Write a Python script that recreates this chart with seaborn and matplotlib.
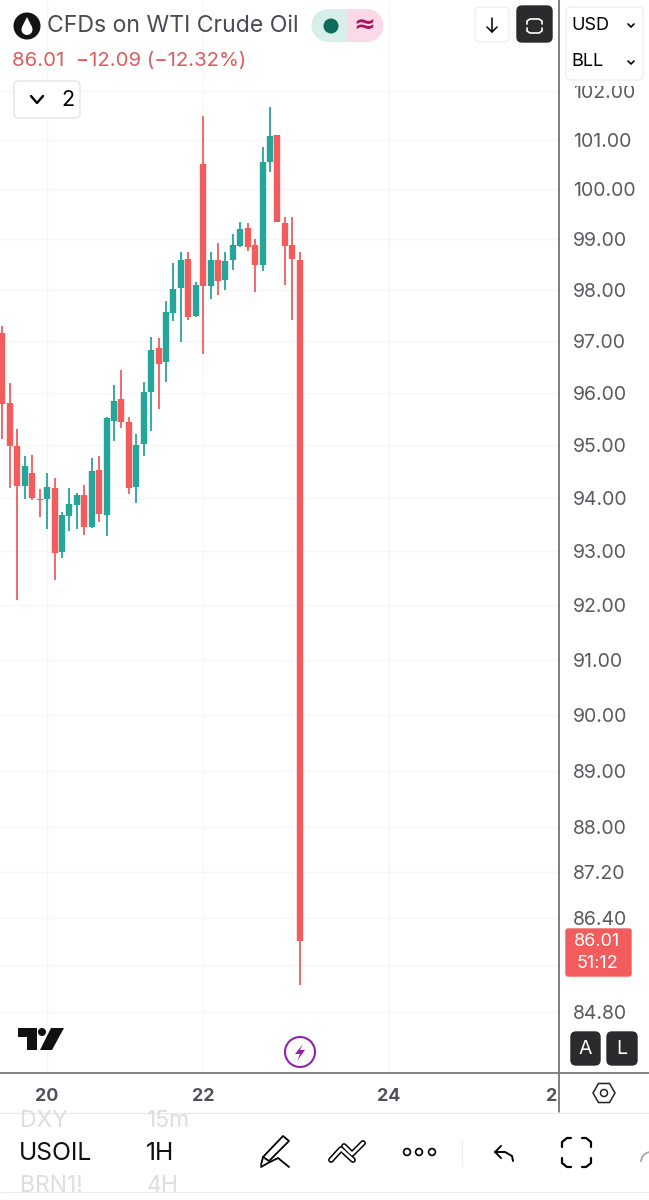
#!/usr/bin/env python3
import numpy as np
import pandas as pd
import seaborn as sns
import matplotlib.pyplot as plt
from matplotlib.patches import Circle, FancyBboxPatch, Polygon, Rectangle, RegularPolygon, Wedge, Arc

# Hourly candles
highs = [97.29, 96.20, 95.30, 94.79, 94.81, 94.17, 94.47, 94.38, 93.74, 94.19, 94.09, 94.25, 94.75, 94.79,
         95.53, 96.16, 96.45, 95.53, 95.21, 96.22, 97.08, 97.06, 97.78, 98.53, 98.75, 98.75, 98.16, 101.49,
         98.76, 98.94, 98.75, 99.10, 99.34, 99.32, 99.00, 100.86, 101.67, 101.10, 99.44, 99.44, 98.76]
lows = [95.11, 94.19, 92.09, 93.98, 93.96, 93.64, 93.42, 92.47, 92.87, 93.38, 93.42, 93.30, 93.43, 93.55,
        93.28, 95.08, 95.32, 94.08, 93.91, 94.79, 95.28, 95.70, 96.22, 97.39, 96.98, 97.41, 97.47, 96.75,
        97.82, 97.90, 98.00, 98.39, 98.86, 98.78, 97.96, 98.37, 100.34, 99.34, 98.10, 97.41, 85.25]
opens = [97.16, 95.81, 94.98, 94.23, 94.47, 93.98, 93.98, 94.19, 92.98, 93.66, 93.87, 94.06, 93.45, 94.53,
         93.68, 95.47, 95.89, 95.45, 94.21, 95.02, 96.02, 96.86, 96.59, 97.55, 98.04, 98.61, 97.49, 100.52,
         98.08, 98.59, 98.20, 98.59, 98.88, 99.22, 98.90, 98.49, 100.56, 101.10, 99.32, 98.90, 98.59]
closes = [95.79, 94.98, 94.23, 94.60, 94.00, 93.96, 94.21, 92.96, 93.68, 93.89, 94.06, 93.45, 94.51, 93.70,
          95.51, 95.85, 95.45, 94.19, 95.00, 96.02, 96.84, 96.55, 97.57, 98.02, 98.59, 97.47, 98.10, 98.08,
          98.59, 98.18, 98.57, 98.90, 99.20, 98.86, 98.49, 100.56, 101.08, 99.34, 98.88, 98.61, 86.01]

price_ticks = [102, 101, 100, 99, 98, 97, 96, 95, 94, 93, 92, 91, 90, 89, 88, 87.2, 86.4, 85.6, 84.8]
price_labels = ['102.00', '101.00', '100.00', '99.00', '98.00', '97.00', '96.00', '95.00', '94.00', '93.00',
                '92.00', '91.00', '90.00', '89.00', '88.00', '87.20', '86.40', '', '84.80']
date_ticks = [6, 27, 52, 74.7]
date_labels = ['20', '22', '24', '26']

UP = '#26a69a'
DOWN = '#f25c5c'
INK = '#2b2b2e'
GRID = '#f6f6f8'

sns.set_theme(style='white', rc={'axes.edgecolor': 'white', 'axes.linewidth': 0})
plt.rcParams['font.family'] = ['Inter', 'DejaVu Sans']

df = pd.DataFrame({'high': highs, 'low': lows, 'open': opens, 'close': closes})
df['bar'] = df.index
df['side'] = np.where(df['close'] >= df['open'], 'up', 'down')
palette = {'up': UP, 'down': DOWN}

wicks = df.melt(id_vars=['bar', 'side'], value_vars=['low', 'high'], value_name='price')
bodies = df.melt(id_vars=['bar', 'side'], value_vars=['open', 'close'], value_name='price')

fig = plt.figure(figsize=(6.49, 12), dpi=100, facecolor='white')
ax = fig.add_axes([0, 1 - 1072 / 1200, 558 / 649, 1072 / 1200])
ax.set_yscale('log')

sns.lineplot(data=wicks, x='bar', y='price', hue='side', units='bar', estimator=None, sort=False,
             palette=palette, linewidth=1.3, legend=False, ax=ax, solid_capstyle='butt')
sns.lineplot(data=bodies, x='bar', y='price', hue='side', units='bar', estimator=None, sort=False,
             palette=palette, linewidth=4.6, legend=False, ax=ax, solid_capstyle='butt')

ax.yaxis.set_minor_locator(plt.NullLocator())
ax.set_yticks(price_ticks)
ax.set_yticklabels(price_labels)
ax.yaxis.tick_right()
ax.set_xticks(date_ticks)
ax.set_xticklabels(date_labels)
# chart uses a log price scale, limits picked so the ticks land where they do in the screenshot
ax.set_ylim(83.78, 103.87)
ax.set_xlim(-0.336, 74.76)
ax.set_xlabel('')
ax.set_ylabel('')
ax.grid(True, color=GRID, linewidth=1)
ax.set_axisbelow(True)
ax.tick_params(axis='y', length=0, pad=10.8, labelsize=14, labelcolor='#5a5a60')
ax.tick_params(axis='x', length=0, pad=11.5, labelsize=12.8, labelcolor='#50505a')
for lab in ax.get_xticklabels():
    lab.set_fontweight('bold')
sns.despine(ax=ax, left=True, bottom=True, right=True, top=True)

# overlay in screen pixels for the app chrome
ui = fig.add_axes([0, 0, 1, 1], zorder=5)
ui.set_xlim(0, 649)
ui.set_ylim(1200, 0)
ui.axis('off')
ui.patch.set_alpha(0)


def box(x0, y0, x1, y1, face='white', edge='#e4e4e8', r=5, lw=1.0, z=3):
    ui.add_patch(FancyBboxPatch((x0 + r, y0 + r), x1 - x0 - 2 * r, y1 - y0 - 2 * r,
                                boxstyle=f'round,pad={r},rounding_size={r}',
                                fc=face, ec=edge, lw=lw, zorder=z))


def stroke(xs, ys, color='black', lw=1.4, z=4):
    ui.plot(xs, ys, color=color, lw=lw, zorder=z, solid_capstyle='round', solid_joinstyle='round')


def label(x, y, s, size, color='black', ha='left', **kw):
    ui.text(x, y, s, fontsize=size, color=color, ha=ha, va='center', zorder=5, **kw)


# right scale cover for the clipped date label, then frame lines
ui.add_patch(Rectangle((558, 1074), 91, 38, fc='white', ec='none', zorder=1))
ui.add_patch(Rectangle((564, 78), 82, 8, fc='white', ec='none', zorder=1))
ui.plot([559, 559], [0, 1112], color='#5c5c60', lw=1.1, zorder=2)
ui.plot([0, 649], [1072.5, 1072.5], color='#77777a', lw=1.3, zorder=2)
ui.plot([0, 649], [1113, 1113], color='#e8e8ea', lw=0.8, zorder=2)
ui.plot([0, 649], [1192, 1192], color='#eeeeef', lw=0.8, zorder=2)

# symbol header
ui.add_patch(Circle((27, 26), 13.5, fc='#131316', ec='none', zorder=4))
ui.add_patch(Circle((27, 29.5), 5.5, fc='white', ec='none', zorder=5))
ui.add_patch(Polygon([[27, 17], [22, 27], [32, 27]], fc='white', ec='none', zorder=5))
label(47, 26, 'CFDs on WTI Crude Oil', 16.6, color='#4a4a52')
ui.add_patch(Wedge((328, 25.5), 16.5, 90, 270, fc='#d8eeeb', ec='none', zorder=3))
ui.add_patch(Rectangle((328, 9), 20, 33, fc='#d8eeeb', ec='none', zorder=3))
ui.add_patch(Rectangle((348, 9), 19, 33, fc='#fbd9e6', ec='none', zorder=3))
ui.add_patch(Wedge((367, 25.5), 16.5, 270, 90, fc='#fbd9e6', ec='none', zorder=3))
ui.add_patch(Circle((331, 26), 7.5, fc='#0d6b5c', ec='none', zorder=4))
label(364, 25, '≈', 19, color='#a8155f', ha='center', family=['DejaVu Sans'], fontweight='bold')
label(12, 61, '86.01  −12.09 (−12.32%)', 14.6, color='#df5a5c')

box(14, 81, 80, 118)
stroke([31, 37, 43], [96, 103, 96], lw=1.7)
label(61, 100, '2', 15.5, ha='left')

# arrow and fullscreen buttons
box(475, 7, 509, 42, edge='#efeff1')
stroke([492, 492], [18, 32], lw=1.1)
stroke([487, 492, 497], [27, 32, 27], lw=1.1)
box(517, 6, 552, 42, face=INK, edge=INK)
for sy, y in ((1, 21), (-1, 31)):
    stroke([527, 527, 530, 539, 542, 542], [y + 3 * sy, y, y - 2 * sy, y - 2 * sy, y, y + 3 * sy], color='white', lw=1.2)

# currency and unit selector
box(566, 7, 643, 80, edge='#eeeef0')
label(571, 26, 'USD', 13)
label(571, 62, 'BLL', 13)
for y in (25, 62):
    stroke([628, 631, 634], [y - 1, y + 2, y - 1], lw=1.2)

# last price tag
box(566, 929, 631, 976, face=DOWN, edge=DOWN, r=2)
label(597, 941, '86.01', 13, color='white', ha='center')
label(597, 963, '51:12', 13, color='white', ha='center')

# auto and log buttons
for x0, x1, s in ((571, 600, 'A'), (607, 637, 'L')):
    box(x0, 1032, x1, 1065, face=INK, edge=INK, r=5)
    label((x0 + x1) / 2, 1049, s, 14, color='white', ha='center')

# logo
ui.add_patch(Polygon([[18, 1028], [37, 1028], [37, 1050], [27, 1050], [27, 1037], [18, 1037]],
                     fc='#111', ec='none', zorder=4))
ui.add_patch(Circle((42, 1032), 4, fc='#111', ec='none', zorder=4))
ui.add_patch(Polygon([[51, 1028], [64, 1028], [52, 1050], [40, 1050]], fc='#111', ec='none', zorder=4))

# purple flash badge
ui.add_patch(Circle((300, 1052), 15, fc='white', ec='#8e24aa', lw=1.5, zorder=4))
ui.add_patch(Polygon([[303, 1044], [295, 1054], [300, 1054], [297, 1061], [305, 1050], [300, 1050]],
                     fc='#8e24aa', ec='none', zorder=5))

# settings hexagon
ui.add_patch(RegularPolygon((604, 1093), 6, radius=11, fc='white', ec='#222', lw=1.1, zorder=4, orientation=np.pi / 6))
ui.add_patch(Circle((604, 1093), 3.5, fc='white', ec='#222', lw=1.1, zorder=5))

# bottom picker
label(20, 1121, 'DXY', 16.5, color='#dedee0')
label(147, 1121, '15m', 16.5, color='#dedee0')
label(19, 1154, 'USOIL', 17.8, color='#111')
label(146, 1154, '1H', 17.8, color='#111')
label(20, 1186, 'BRN1!', 16.5, color='#dedee0')
label(147, 1186, '4H', 16.5, color='#dedee0')

# toolbar: pen
stroke([263, 283, 289, 269, 263], [1157, 1136, 1141, 1161, 1157], lw=1.3)
stroke([263, 261], [1157, 1165], lw=1.3)
stroke([261, 268, 278, 289], [1167, 1163, 1158, 1167], lw=1.3)
# toolbar: double chevrons
stroke([331, 341, 353], [1160, 1149, 1160], lw=4.2, color='black')
stroke([331, 341, 353], [1160, 1149, 1160], lw=2.0, color='white', z=5)
stroke([344, 352, 363], [1146, 1154, 1143], lw=4.2, color='black')
stroke([344, 352, 363], [1146, 1154, 1143], lw=2.0, color='white', z=5)
# toolbar: dots
for x in (407, 419, 432):
    ui.add_patch(Circle((x, 1152), 3.4, fc='white', ec='black', lw=1.2, zorder=4))
ui.plot([462, 462], [1140, 1166], color='#eeeeef', lw=0.8, zorder=2)
# toolbar: undo
stroke([501, 495, 501], [1146, 1152, 1158], lw=1.4)
stroke([495, 505, 512, 513], [1152, 1152, 1156, 1161], lw=1.4)
# toolbar: frame corners
for cx, cy in ((562, 1138), (591, 1138), (562, 1167), (591, 1167)):
    dx = 1 if cx < 577 else -1
    dy = 1 if cy < 1152 else -1
    stroke([cx, cx, cx + 5 * dx, cx + 9 * dx], [cy + 9 * dy, cy + 4 * dy, cy, cy], lw=1.6)
ui.add_patch(Arc((651, 1162), 20, 20, theta1=180, theta2=270, ec='#aaaaaa', lw=1.3, zorder=4))

fig.savefig('out.png', dpi=100)
